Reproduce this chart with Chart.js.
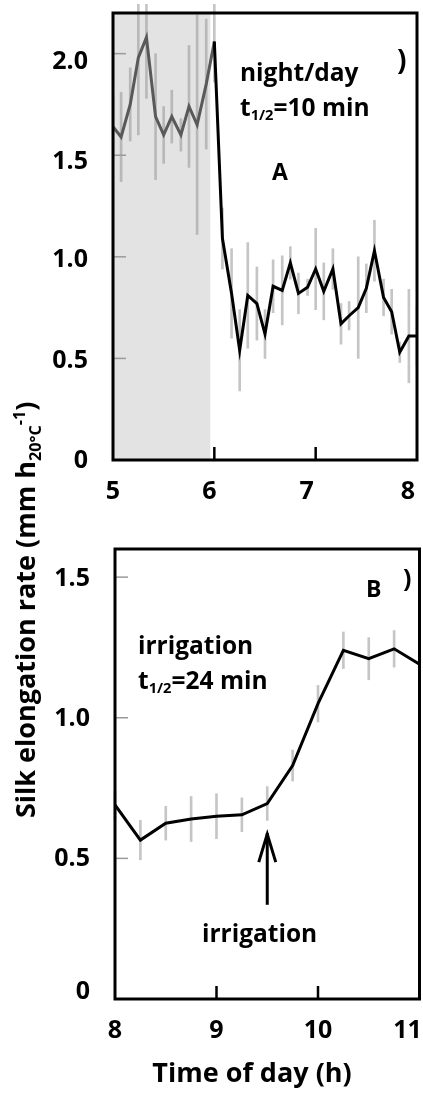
<!DOCTYPE html>
<html>
<head>
<meta charset="utf-8">
<title>Silk elongation rate</title>
<script src="https://cdn.jsdelivr.net/npm/chart.js@4.4.1/dist/chart.umd.min.js"></script>
<style>
  html, body { margin: 0; padding: 0; background: #fff; }
  #page { position: relative; width: 423px; height: 1093px; overflow: hidden;
          font-family: 'Open Sans', sans-serif; font-weight: bold; color: #000; }
  canvas { position: absolute; left: 0; }
  #chartA { top: 0; }
  #chartB { top: 515px; }
  .note { position: absolute; white-space: nowrap; line-height: 1; font-size: 24.5px; z-index: 2; }
  .note sub { font-size: 0.6em; vertical-align: -0.3em; line-height: 0; }
  .small { font-size: 23px; }
  .paren { font-size: 28px; }
  #xtitle { position: absolute; left: 252px; top: 1058px; transform: translateX(-50%);
            font-size: 27px; line-height: 1; white-space: nowrap; }
  #ytitle { position: absolute; left: 0; top: 0; transform-origin: 0 0;
            transform: translate(11px, 818px) rotate(-90deg);
            font-size: 27px; line-height: 1; white-space: nowrap; }
  #ytitle sub, #ytitle sup { font-size: 0.6em; line-height: 0; }
</style>
</head>
<body>
<div id="page">
  <canvas id="chartA" width="423" height="515"></canvas>
  <canvas id="chartB" width="423" height="578"></canvas>

  <div class="note" style="left:240px; top:60px;">night/day</div>
  <div class="note" style="left:240px; top:95px;">t<sub>1/2</sub>=10 min</div>
  <div class="note small" style="left:272px; top:160px;">A</div>
  <div class="note paren" style="left:397px; top:45px;">)</div>

  <div class="note small" style="left:366px; top:577px;">B</div>
  <div class="note paren" style="left:403px; top:565px; font-size:25px;">)</div>
  <div class="note" style="left:138px; top:633px;">irrigation</div>
  <div class="note" style="left:138px; top:668px;">t<sub>1/2</sub>=24 min</div>
  <div class="note" style="left:202px; top:921px;">irrigation</div>

  <div id="xtitle">Time of day (h)</div>
  <div id="ytitle">Silk elongation rate (mm h<sub>20°C</sub><sup>-1</sup>)</div>
</div>

<script>
// Panel A: night/day transition, 5-min readings
const timesA = [5.00, 5.08, 5.17, 5.25, 5.33, 5.42, 5.50, 5.58, 5.67, 5.75, 5.83, 5.92,
                6.00, 6.08, 6.17, 6.25, 6.33, 6.42, 6.50, 6.58, 6.67, 6.75, 6.83, 6.92,
                7.00, 7.08, 7.17, 7.25, 7.33, 7.42, 7.50, 7.58, 7.67, 7.75, 7.83, 7.92, 8.00];
const rateA = [1.64, 1.59, 1.75, 1.98, 2.08, 1.69, 1.60, 1.69, 1.60, 1.74, 1.65, 1.85,
               2.06, 1.09, 0.82, 0.54, 0.81, 0.77, 0.62, 0.855, 0.835, 0.97, 0.82, 0.85,
               0.94, 0.83, 0.94, 0.67, 0.71, 0.75, 0.845, 1.03, 0.80, 0.73, 0.53, 0.61, 0.61];
const errA = [0.15, 0.22, 0.18, 0.38, 0.30, 0.31, 0.14, 0.13, 0.08, 0.30, 0.54, 0.32,
              0.20, 0.15, 0.22, 0.20, 0.26, 0.18, 0.12, 0.13, 0.17, 0.08, 0.10, 0.04,
              0.20, 0.14, 0.10, 0.10, 0.07, 0.25, 0.12, 0.15, 0.09, 0.11, 0.05, 0.23, 0.15];
const nightEndA = 5.96;
const xTicksA = [5, 6, 7, 8];
const yTicksA = [0, 0.5, 1.0, 1.5, 2.0];

// Panel B: irrigation, 15-min readings
const timesB = [8.00, 8.25, 8.50, 8.75, 9.00, 9.25, 9.50, 9.75, 10.00, 10.25, 10.50, 10.75, 11.00];
const rateB = [0.69, 0.565, 0.625, 0.64, 0.65, 0.655, 0.695, 0.83, 1.05, 1.24, 1.21, 1.245, 1.19];
const errB = [0.05, 0.07, 0.06, 0.08, 0.08, 0.06, 0.06, 0.055, 0.065, 0.065, 0.075, 0.065, 0.06];
const irrigationTime = 9.5;
const xTicksB = [8, 9, 10, 11];
const yTicksB = [0, 0.5, 1.0, 1.5];

const tickFont = { family: "'Open Sans'", size: 25, weight: 'bold' };

// shift tick labels a few px, like in the original figure
function nudgeLabels(scale, shifts, horizontal) {
  if (!shifts) return;
  const items = scale.getLabelItems();
  if (items._nudged) return;
  items.forEach((it, i) => {
    const t = it.options.translation;
    const d = shifts[i] || 0;
    it.options.translation = horizontal ? [t[0] + d, t[1]] : [t[0], t[1] + d];
  });
  items._nudged = true;
}

const panelDecor = {
  id: 'panelDecor',
  beforeDraw(chart, args, opts) {
    nudgeLabels(chart.scales.x, opts.xNudge, true);
    nudgeLabels(chart.scales.y, opts.yNudge, false);
  },
  beforeDatasetsDraw(chart, args, opts) {
    const { ctx, chartArea: a, scales: { x } } = chart;
    if (!opts.shade) return;
    const x0 = x.getPixelForValue(opts.shade[0]);
    const x1 = x.getPixelForValue(opts.shade[1]);
    ctx.save();
    ctx.fillStyle = '#e3e3e3';
    ctx.fillRect(x0, a.top, x1 - x0, a.bottom - a.top);
    ctx.restore();
  },
  afterDatasetsDraw(chart, args, opts) {
    const { ctx, chartArea: a, scales: { x, y } } = chart;
    ctx.save();
    // small gray inner ticks on the value axis
    ctx.strokeStyle = '#9a9a9a';
    ctx.lineWidth = 1.5;
    (opts.yMarks || []).forEach(v => {
      const py = y.getPixelForValue(v);
      ctx.beginPath(); ctx.moveTo(a.left, py); ctx.lineTo(a.left + 13, py); ctx.stroke();
    });
    // black inner ticks on the time axis
    ctx.strokeStyle = '#000';
    ctx.lineWidth = 2.5;
    (opts.xMarks || []).forEach(v => {
      const px = x.getPixelForValue(v);
      ctx.beginPath(); ctx.moveTo(px, a.bottom); ctx.lineTo(px, a.bottom - 13); ctx.stroke();
    });
    // arrow
    if (opts.arrow) {
      const px = x.getPixelForValue(opts.arrow.x);
      const yTip = y.getPixelForValue(opts.arrow.to);
      const yEnd = y.getPixelForValue(opts.arrow.from);
      ctx.lineWidth = 3;
      ctx.beginPath(); ctx.moveTo(px, yEnd); ctx.lineTo(px, yTip); ctx.stroke();
      ctx.beginPath();
      ctx.moveTo(px - 8.5, yTip + 29); ctx.lineTo(px, yTip + 1); ctx.lineTo(px + 8.5, yTip + 29);
      ctx.stroke();
    }
    // frame
    ctx.lineWidth = 3;
    ctx.strokeRect(a.left, a.top, a.right - a.left, a.bottom - a.top);
    ctx.restore();
  }
};

function makePanel(id, cfg) {
  return new Chart(document.getElementById(id), {
    type: 'line',
    data: {
      datasets: [
        {
          type: 'line',
          data: cfg.times.map((t, i) => ({ x: t, y: cfg.rate[i] })),
          borderColor: '#000',
          borderWidth: 3,
          pointRadius: 0,
          tension: 0,
          order: 0,
          segment: cfg.segment
        },
        {
          type: 'bar',
          data: cfg.times.map((t, i) => ({ x: t, y: [cfg.rate[i] - cfg.err[i], cfg.rate[i] + cfg.err[i]] })),
          backgroundColor: 'rgba(150,150,150,0.55)',
          borderWidth: 0,
          barThickness: 2,
          order: 1,
          clip: cfg.barClip
        }
      ]
    },
    options: {
      responsive: false,
      animation: false,
      events: [],
      layout: { padding: cfg.padding },
      plugins: {
        legend: { display: false },
        tooltip: { enabled: false },
        panelDecor: cfg.decor
      },
      scales: {
        x: {
          type: 'linear',
          offset: false,
          min: cfg.xMin, max: cfg.xMax,
          afterBuildTicks: s => { s.ticks = cfg.xTicks.map(v => ({ value: v })); },
          afterFit: s => { s.height = cfg.xHeight; s.paddingLeft = 0; s.paddingRight = 0; },
          grid: { display: false, drawTicks: false, offset: false },
          border: { display: false },
          ticks: { font: tickFont, color: '#000', padding: 17, maxRotation: 0, autoSkip: false,
                   callback: v => String(v) }
        },
        y: {
          min: 0, max: cfg.yMax,
          afterBuildTicks: s => { s.ticks = cfg.yTicks.map(v => ({ value: v })); },
          afterFit: s => { s.width = cfg.yWidth; s.paddingTop = 0; s.paddingBottom = 0; },
          grid: { display: false, drawTicks: false },
          border: { display: false },
          ticks: { font: tickFont, color: '#000', padding: 25, autoSkip: false,
                   callback: v => v === 0 ? '0' : v.toFixed(1) }
        }
      }
    },
    plugins: [panelDecor]
  });
}

makePanel('chartA', {
  times: timesA, rate: rateA, err: errA,
  xMin: 5, xMax: 8, yMax: 2.2,
  xTicks: xTicksA, yTicks: yTicksA,
  padding: { left: 0, top: 13, right: 6, bottom: 0 },
  xHeight: 55, yWidth: 113,
  barClip: { left: 0, top: 9, right: 0, bottom: 0 },
  segment: { borderColor: c => c.p0.parsed.x < nightEndA ? '#595959' : '#000' },
  decor: {
    shade: [5, nightEndA],
    yMarks: [0.5, 1.0, 1.5, 2.0],
    xMarks: [6, 7],
    xNudge: [0, -5, -9, -9],
    yNudge: [1, 2, 3, 7, 8]
  }
});

makePanel('chartB', {
  times: timesB, rate: rateB, err: errB,
  xMin: 8, xMax: 11, yMax: 1.6,
  xTicks: xTicksB, yTicks: yTicksB,
  padding: { left: 0, top: 34, right: 3.5, bottom: 0 },
  xHeight: 94, yWidth: 115,
  barClip: false,
  segment: undefined,
  decor: {
    yMarks: [0.5, 1.0, 1.5],
    xMarks: [9, 10],
    xNudge: [0, 0, 0, -12],
    yNudge: [-7, 0, 1, 2],
    arrow: { x: irrigationTime, from: 0.335, to: 0.59 }
  }
});
</script>
</body>
</html>
